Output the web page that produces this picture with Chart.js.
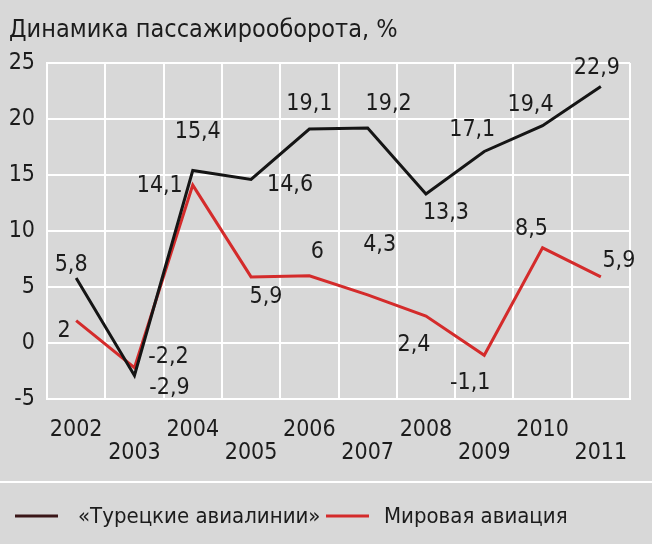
<!DOCTYPE html>
<html>
<head>
<meta charset="utf-8">
<script src="https://cdn.jsdelivr.net/npm/chart.js@4"></script>
<style>
  html, body { margin: 0; padding: 0; background: #d8d8d8; }
  #wrap { width: 652px; height: 544px; }
</style>
</head>
<body>
<div id="wrap"><canvas id="paxChart"></canvas></div>
<script>
const years = ['2002', '2003', '2004', '2005', '2006', '2007', '2008', '2009', '2010', '2011'];
const turkishAirlines = [5.8, -2.9, 15.4, 14.6, 19.1, 19.2, 13.3, 17.1, 19.4, 22.9];
const worldAviation = [2, -2.2, 14.1, 5.9, 6, 4.3, 2.4, -1.1, 8.5, 5.9];
const seriesNames = ['«Турецкие авиалинии»', 'Мировая авиация'];
const chartTitle = 'Динамика пассажирооборота, %';

// where each value label sits relative to its point (dx, dy)
const turkishLabelPos = [[-5, -13], [35, 13], [5, -38], [39, 6], [0, -25], [21, -24], [20, 19], [-12, -21], [-12, -21], [-4, -18]];
const worldLabelPos = [[-12, 10], [34, -11], [-33, 1], [15, 20], [8, -24], [12, -50], [-12, 29], [-14, 28], [-11, -19], [18, -16]];

const FONT = "'Liberation Sans Narrow', 'DejaVu Sans Condensed', 'Roboto', sans-serif";
const BG = '#d8d8d8';
const TXT = '#1c1c1c';

const fmt = v => String(v).replace('.', ',');

const extras = {
    id: 'extras',
    beforeDraw(chart) {
        const c = chart.ctx;
        c.save();
        c.fillStyle = BG;
        c.fillRect(0, 0, chart.width, chart.height);
        c.restore();
    },
    afterDatasetsDraw(chart) {
        const c = chart.ctx;
        c.save();
        c.font = '23px ' + FONT;
        c.fillStyle = TXT;
        c.textAlign = 'center';
        c.textBaseline = 'middle';
        const pos = [turkishLabelPos, worldLabelPos];
        chart.data.datasets.forEach((ds, di) => {
            chart.getDatasetMeta(di).data.forEach((pt, i) => {
                c.fillText(fmt(ds.data[i]), pt.x + pos[di][i][0], pt.y + pos[di][i][1]);
            });
        });
        c.restore();
    },
    afterDraw(chart) {
        const c = chart.ctx;
        c.save();
        // title
        c.font = '25px ' + FONT;
        c.fillStyle = TXT;
        c.textBaseline = 'alphabetic';
        c.textAlign = 'left';
        c.fillText(chartTitle, 9, 37);
        // separator above the legend
        c.strokeStyle = '#ffffff';
        c.lineWidth = 2;
        c.beginPath();
        c.moveTo(0, 482);
        c.lineTo(chart.width, 482);
        c.stroke();
        // legend
        const colors = ['#3a1618', '#d42b2b'];
        const items = [[15, 78], [326, 384]];
        c.font = '22px ' + FONT;
        c.textBaseline = 'middle';
        items.forEach((it, i) => {
            c.strokeStyle = colors[i];
            c.lineWidth = 3;
            c.beginPath();
            c.moveTo(it[0], 516);
            c.lineTo(it[0] + 43, 516);
            c.stroke();
            c.fillText(seriesNames[i], it[1], 517);
        });
        c.restore();
    }
};

const ctx = document.getElementById('paxChart').getContext('2d');

const paxChart = new Chart(ctx, {
    type: 'line',
    data: {
        labels: years,
        datasets: [
            {
                label: seriesNames[0],
                data: turkishAirlines,
                borderColor: '#151515',
                borderWidth: 3,
                pointRadius: 0,
                tension: 0
            },
            {
                label: seriesNames[1],
                data: worldAviation,
                borderColor: '#d42b2b',
                borderWidth: 3,
                pointRadius: 0,
                tension: 0
            }
        ]
    },
    options: {
        responsive: true,
        maintainAspectRatio: false,
        animation: false,
        layout: { padding: { top: 63, right: 22, bottom: 61, left: 0 } },
        plugins: {
            legend: { display: false },
            tooltip: { enabled: false }
        },
        scales: {
            x: {
                offset: true,
                grid: { offset: true, color: '#ffffff', lineWidth: 2, drawTicks: false },
                border: { color: '#ffffff', width: 2 },
                afterFit: s => { s.height = 84; },
                ticks: {
                    color: TXT,
                    padding: 20,
                    maxRotation: 0,
                    autoSkip: false,
                    font: { family: FONT, size: 23, lineHeight: '23px' },
                    callback: function (v, i) {
                        const y = this.getLabelForValue(v);
                        return i % 2 === 0 ? [y, ''] : ['', y];
                    }
                }
            },
            y: {
                min: -5,
                max: 25,
                grid: { color: '#ffffff', lineWidth: 2, drawTicks: false },
                border: { color: '#ffffff', width: 2 },
                afterFit: s => { s.width = 47; },
                ticks: {
                    stepSize: 5,
                    color: TXT,
                    padding: 12,
                    font: { family: FONT, size: 23 }
                }
            }
        }
    },
    plugins: [extras]
});
</script>
</body>
</html>
